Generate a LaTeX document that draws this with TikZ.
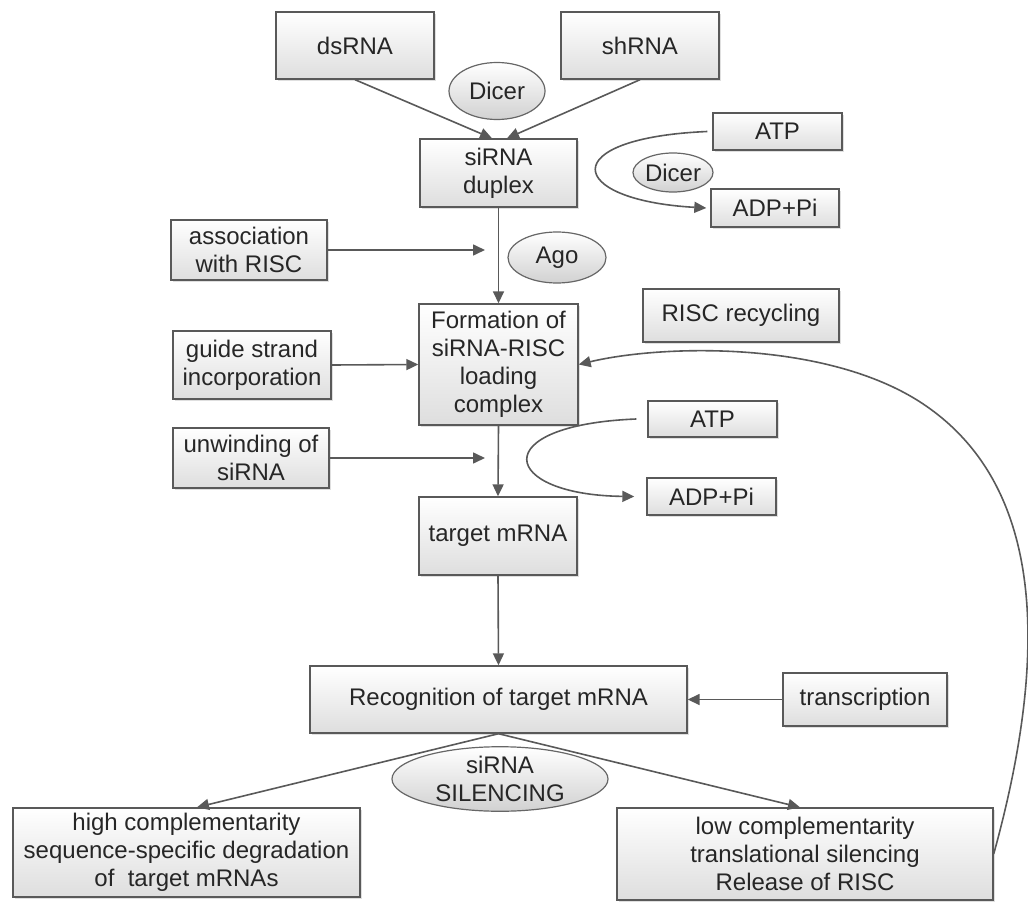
\documentclass[tikz,border=0pt]{standalone}
\usepackage{fontspec}
\setmainfont{Liberation Sans}
\usepackage{xcolor}
\usetikzlibrary{arrows.meta, shapes.geometric, shadows, positioning}

\tikzset{
    box/.style={rectangle, draw=black!65, line width=0.7pt, top color=white, bottom color=black!13,
        drop shadow={opacity=0.25, shadow xshift=1.2pt, shadow yshift=-1.2pt},
        align=center, inner sep=1pt, text=black!85},
    enzyme/.style={ellipse, draw=black!60, line width=0.6pt, top color=white, bottom color=black!18,
        align=center, inner sep=0pt, text=black!85},
    link/.style={draw=black!65, line width=0.8pt, ->}
}

\begin{document}
\begin{tikzpicture}[x=0.5pt, y=-0.5pt, >={Triangle[length=6pt, width=5.5pt]}, font=\fontsize{12}{14}\selectfont]
                        \useasboundingbox (0,0) rectangle (1028,904);
                        \node[box, minimum width=79pt, minimum height=33.5pt] (ds) at (355, 45.5) {dsRNA};
                        \node[box, minimum width=79pt, minimum height=33.5pt] (sh) at (640, 45.5) {shRNA};
                        \node[enzyme, minimum width=48pt, minimum height=28.5pt] (dicerA) at (497, 91) {Dicer};
                        \node[box, minimum width=78.5pt, minimum height=34pt] (dup) at (498.5, 173) {siRNA\\duplex};
                        \node[box, minimum width=64.5pt, minimum height=18.5pt] (atpA) at (777.5, 131.5) {ATP};
                        \node[box, minimum width=64pt, minimum height=19pt] (adpA) at (775, 208) {ADP+Pi};
                        \node[enzyme, minimum width=40pt, minimum height=19.5pt] (dicerB) at (673, 172.5) {Dicer};
                        \node[box, minimum width=78pt, minimum height=30pt] (assoc) at (249, 250) {association\\with RISC};
                        \node[enzyme, minimum width=49pt, minimum height=25.5pt] (ago) at (557, 257.5) {Ago};
                        \node[box, minimum width=79.5pt, minimum height=60.5pt] (form) at (498.5, 364.5) {Formation of\\siRNA-RISC\\loading\\complex};
                        \node[box, minimum width=79pt, minimum height=34pt] (guide) at (252, 365) {guide strand\\incorporation};
                        \node[box, minimum width=98pt, minimum height=26.5pt] (recyc) at (741, 315.5) {RISC recycling};
                        \node[box, minimum width=78pt, minimum height=30pt] (unwind) at (251, 458) {unwinding of\\siRNA};
                        \node[box, minimum width=64.5pt, minimum height=18pt] (atpB) at (712.5, 419) {ATP};
                        \node[box, minimum width=64.5pt, minimum height=18.5pt] (adpB) at (711.5, 496.5) {ADP+Pi};
                        \node[box, minimum width=79pt, minimum height=39pt] (target) at (498, 536) {target mRNA};
                        \node[box, minimum width=188.5pt, minimum height=33.5pt] (recog) at (498.5, 699.5) {Recognition of target mRNA};
                        \node[box, minimum width=82pt, minimum height=26.5pt] (transc) at (865, 699.5) {transcription};
                        \node[enzyme, minimum width=108pt, minimum height=27pt] (silence) at (500, 779) {siRNA\\SILENCING};
                        \node[box, minimum width=173.5pt, minimum height=44.5pt] (high) at (186.5, 852.5) {high complementarity\\sequence-specific degradation\\of\ \ target mRNAs};
                        \node[box, minimum width=188pt, minimum height=46pt] (low) at (805, 854) {low complementarity\\translational silencing\\Release of RISC};
                        \coordinate (assocEnd) at (485, 250);
                        \coordinate (unwindEnd) at (485, 458);
                        \draw
                        (ds.south) edge[link] ([xshift=-3.25pt]dup.north)
                        (sh.south) edge[link] ([xshift=4.25pt]dup.north)
                        (dup.south) edge[link] (form.north)
                        (assoc.east) edge[link] (assocEnd)
                        (guide.east) edge[link] (form.west)
                        (unwind.east) edge[link] (unwindEnd)
                        (form.south) edge[link] (target.north)
                        (target.south) edge[link] (recog.north)
                        (transc.west) edge[link] (recog.east)
                        (recog.south) edge[link] ([xshift=5.25pt]high.north)
                        (recog.south) edge[link] ([xshift=-2.5pt]low.north);
                        % ATP cycles and recycling loop
                        \draw[link] ([xshift=-2.5pt]atpA.west) .. controls (555, 138) and (565, 200) .. ([xshift=-2pt]adpA.west);
                        \draw[link] ([xshift=-5.5pt]atpB.west) .. controls (485, 425) and (500, 495) .. ([xshift=-6pt]adpB.west);
                        \draw[link] (low.east) .. controls (1050, 650) and (1045, 480) .. (917, 400) .. controls (820, 340) and (660, 345) .. (form.east);
                    \end{tikzpicture}
\end{document}
